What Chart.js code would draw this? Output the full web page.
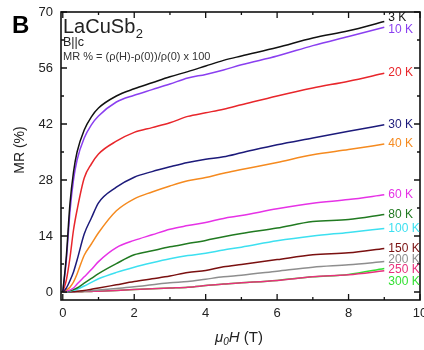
<!DOCTYPE html>
<html>
<head>
<meta charset="utf-8">
<script src="https://cdn.jsdelivr.net/npm/chart.js@4.4.0/dist/chart.umd.min.js"></script>
<style>
  html, body { margin: 0; padding: 0; background: #fff; }
  #wrap { width: 424px; height: 350px; position: relative; }
</style>
</head>
<body>
<div id="wrap"><canvas id="mrChart"></canvas></div>
<script>
// magnetic field (T)
const fields = [0, 0.1, 0.2, 0.3, 0.4, 0.6, 0.8, 1, 1.5, 2, 2.5, 3, 3.5, 4, 4.5, 5, 6, 7, 8, 9];

// MR (%) for each temperature
const mr3K   = [0, 9, 22, 30, 35, 40.5, 43.8, 46, 49, 50.8, 52.3, 53.8, 55.1, 56.5, 57.9, 59, 61.1, 63.5, 65.3, 67.6];
const mr10K  = [0, 8, 20, 28, 33, 38.5, 41.8, 44, 47.5, 49.2, 50.6, 52, 53.5, 54.4, 55.5, 56.8, 59, 61.6, 63.9, 66.2];
const mr20K  = [0, 3, 8.5, 15.5, 20.5, 28.5, 32, 34.5, 37.7, 39.9, 41.1, 42.3, 43.9, 44.8, 45.7, 46.8, 49, 51, 52.7, 54.7];
const mr30K  = [0, 1, 2.8, 5, 8, 14.5, 18.5, 22.3, 26.2, 28.7, 30.1, 31.3, 32.4, 33.2, 33.8, 34.8, 36.8, 38.5, 40.2, 41.8];
const mr40K  = [0, 0.5, 1.2, 2.5, 4.5, 9.2, 12, 14.8, 20.3, 23.3, 25, 26.5, 27.8, 28.6, 29.7, 30.6, 32.4, 34.3, 35.6, 37];
const mr60K  = [0, 0.2, 0.5, 1, 2, 3.8, 5.6, 7.6, 11.1, 12.9, 14.3, 15.7, 16.6, 17.4, 18.4, 19.1, 20.8, 22.2, 23.1, 24.3];
const mr80K  = [0, 0.1, 0.3, 0.6, 1, 2.2, 3.4, 4.6, 7.1, 9.3, 10.3, 11.3, 12.1, 12.9, 13.8, 14.6, 16, 17.6, 18.1, 19.4];
const mr100K = [0, 0.05, 0.2, 0.4, 0.7, 1.5, 2.4, 3.3, 4.9, 6.2, 7.3, 8.3, 9.1, 9.7, 10.5, 11.2, 12.8, 14, 14.9, 15.9];
const mr150K = [0, 0, 0.05, 0.1, 0.2, 0.4, 0.7, 1, 1.8, 2.6, 3.3, 4, 4.9, 5.4, 6.3, 6.9, 8.1, 9.3, 9.8, 10.9];
const mr200K = [0, 0, 0, 0.05, 0.1, 0.2, 0.35, 0.5, 0.9, 1.3, 1.8, 2.3, 2.6, 3.2, 3.8, 4.2, 5.2, 6.2, 6.8, 7.6];
const mr250K = [0, 0, 0, 0, 0.05, 0.1, 0.15, 0.2, 0.4, 0.6, 0.8, 1, 1.2, 1.6, 2, 2.3, 2.9, 3.8, 4.3, 5.3];
const mr300K = [0, 0, 0, 0, 0.05, 0.1, 0.15, 0.2, 0.4, 0.6, 0.8, 1, 1.2, 1.6, 2, 2.3, 2.9, 3.8, 4.4, 5.9];

const seriesLabels = ['3 K', '10 K', '20 K', '30 K', '40 K', '60 K', '80 K', '100 K', '150 K', '200 K', '250 K', '300 K'];
const seriesData = [mr3K, mr10K, mr20K, mr30K, mr40K, mr60K, mr80K, mr100K, mr150K, mr200K, mr250K, mr300K];

const xTicks = [0, 2, 4, 6, 8, 10];
const yTicks = [0, 14, 28, 42, 56, 70];

// styling
const colors = ['#111111', '#8a3ff0', '#e8262b', '#1c1a7a', '#f58a1f', '#e632e6',
                '#217a21', '#3de0f0', '#7a1010', '#8e8e8e', '#e8307c', '#33e033'];
const labelShift = [-4, 2, -1, 0, 0, 0, 0, 0, 0, -2, -1, 13]; // px, end-label nudges
const FONT = '"Liberation Sans", Arial, sans-serif';

const datasets = seriesData.map((vals, i) => ({
    label: seriesLabels[i],
    data: vals.map((v, j) => ({ x: fields[j], y: v })),
    borderColor: colors[i],
    borderWidth: 1.5,
    pointRadius: 0,
    fill: false,
    cubicInterpolationMode: 'monotone'
}));

// box around plot with inward ticks on all sides
const framePlugin = {
    id: 'frame',
    afterDatasetsDraw(chart) {
        const { ctx, chartArea: a, scales: { x, y } } = chart;
        ctx.save();
        ctx.strokeStyle = '#111';
        ctx.lineWidth = 1.6;
        ctx.strokeRect(a.left, a.top, a.right - a.left, a.bottom - a.top);
        ctx.lineWidth = 1.3;
        ctx.beginPath();
        for (let v = 0; v <= 10; v++) {
            const px = x.getPixelForValue(v);
            const len = v % 2 ? 3 : 6;
            ctx.moveTo(px, a.bottom); ctx.lineTo(px, a.bottom - len);
            ctx.moveTo(px, a.top); ctx.lineTo(px, a.top + len);
        }
        for (let v = 0; v <= 70; v += 7) {
            const py = y.getPixelForValue(v);
            const len = v % 14 ? 3 : 6;
            ctx.moveTo(a.left, py); ctx.lineTo(a.left + len, py);
            ctx.moveTo(a.right, py); ctx.lineTo(a.right - len, py);
        }
        ctx.stroke();
        ctx.restore();
    }
};

// texts: panel letter, compound, formula, axis titles, curve labels
const textPlugin = {
    id: 'texts',
    afterDraw(chart) {
        const { ctx, scales: { x, y } } = chart;
        ctx.save();
        ctx.textBaseline = 'alphabetic';
        ctx.fillStyle = '#000';
        ctx.font = 'bold 24px ' + FONT;
        ctx.fillText('B', 12, 33);

        ctx.fillStyle = '#222';
        ctx.font = '20px ' + FONT;
        ctx.fillText('LaCuSb', 63, 33);
        const w = ctx.measureText('LaCuSb').width;
        ctx.font = '13px ' + FONT;
        ctx.fillText('2', 63 + w + 0.5, 38);
        ctx.font = '12.5px ' + FONT;
        ctx.fillText('B||c', 63, 46);
        ctx.font = '11px ' + FONT;
        ctx.fillStyle = '#333';
        ctx.fillText('MR % = (\u03c1(H)-\u03c1(0))/\u03c1(0) x 100', 63, 60);

        // y title
        ctx.fillStyle = '#222';
        ctx.font = '14px ' + FONT;
        ctx.save();
        ctx.translate(24, 150);
        ctx.rotate(-Math.PI / 2);
        ctx.textAlign = 'center';
        ctx.fillText('MR (%)', 0, 0);
        ctx.restore();

        // x title: mu0 H (T)
        let cx = 215;
        const base = 342;
        ctx.font = 'italic 15px ' + FONT;
        ctx.fillText('\u03bc', cx, base); cx += ctx.measureText('\u03bc').width;
        ctx.font = 'italic 10px ' + FONT;
        ctx.fillText('0', cx, base + 3); cx += ctx.measureText('0').width;
        ctx.font = 'italic 15px ' + FONT;
        ctx.fillText('H', cx, base); cx += ctx.measureText('H').width;
        ctx.font = '15px ' + FONT;
        ctx.fillText(' (T)', cx, base);

        // curve labels at line ends
        ctx.font = '12px ' + FONT;
        ctx.textBaseline = 'middle';
        seriesData.forEach((vals, i) => {
            const n = vals.length - 1;
            const px = x.getPixelForValue(fields[n]) + 4;
            const py = y.getPixelForValue(vals[n]) + labelShift[i];
            ctx.fillStyle = colors[i];
            ctx.fillText(seriesLabels[i], px, py);
        });
        ctx.restore();
    }
};

const tickFont = { family: FONT, size: 13 };

new Chart(document.getElementById('mrChart'), {
    type: 'line',
    data: { datasets: datasets },
    options: {
        responsive: true,
        maintainAspectRatio: false,
        animation: false,
        layout: { padding: { top: 12, right: 4, left: 0, bottom: 0 } },
        plugins: { legend: { display: false }, tooltip: { enabled: false } },
        scales: {
            x: {
                type: 'linear',
                min: -0.05,
                max: 10,
                afterBuildTicks: s => { s.ticks = xTicks.map(v => ({ value: v })); },
                afterFit: s => { s.height = 50; s.paddingLeft = 0; s.paddingRight = 0; },
                ticks: { font: tickFont, color: '#222', padding: 6, maxRotation: 0, autoSkip: false },
                grid: { display: false, drawTicks: false },
                border: { display: false }
            },
            y: {
                type: 'linear',
                min: -2,
                max: 70,
                afterBuildTicks: s => { s.ticks = yTicks.map(v => ({ value: v })); },
                afterFit: s => { s.width = 61; s.paddingTop = 0; s.paddingBottom = 0; },
                ticks: { font: tickFont, color: '#222', padding: 8, autoSkip: false },
                grid: { display: false, drawTicks: false },
                border: { display: false }
            }
        }
    },
    plugins: [framePlugin, textPlugin]
});
</script>
</body>
</html>
